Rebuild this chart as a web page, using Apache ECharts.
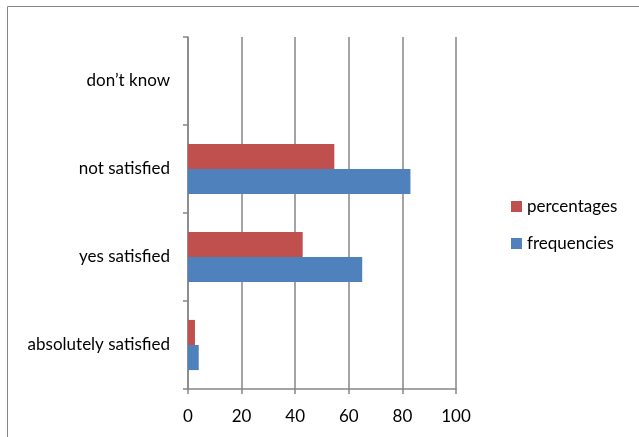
<!DOCTYPE html>
<html>
<head>
<meta charset="utf-8">
<script src="https://cdn.jsdelivr.net/npm/echarts@6/dist/echarts.min.js"></script>
<style>
html,body{margin:0;padding:0;background:#fff;}
#chart{width:639px;height:437px;}
</style>
</head>
<body>
<div id="chart"></div>
<script>
const categories = ["absolutely satisfied", "yes satisfied", "not satisfied", "don\u2019t know"];
const frequencies = [4, 65, 83, 0];
const percentages = [2.6, 42.8, 54.6, 0];
const xTicks = [0, 20, 40, 60, 80, 100];

const chart = echarts.init(document.getElementById('chart'), null, {renderer: 'canvas'});
const axisGray = '#868686';
const fontFam = 'Lato, "Open Sans", sans-serif';
chart.setOption({
  animation: false,
  backgroundColor: '#ffffff',
  graphic: [{
    type: 'rect',
    shape: {x: 7.5, y: 6.5, width: 700, height: 500},
    style: {fill: 'none', stroke: axisGray, lineWidth: 1},
    silent: true
  }],
  grid: {left: 188, top: 37, right: 183, bottom: 48, containLabel: false},
  legend: {
    data: ['percentages', 'frequencies'],
    orient: 'vertical',
    left: 506,
    top: 193,
    itemWidth: 11,
    itemHeight: 11,
    itemGap: 20,
    icon: 'rect',
    textStyle: {fontFamily: fontFam, fontSize: 17, color: '#000'}
  },
  xAxis: {
    type: 'value',
    min: 0, max: 100, interval: 20,
    axisLine: {show: true, lineStyle: {color: axisGray, width: 1.5}},
    axisTick: {show: true, length: 5, lineStyle: {color: axisGray, width: 1.5}},
    splitLine: {show: true, lineStyle: {color: axisGray, width: 1.5}},
    axisLabel: {
      fontFamily: fontFam, fontSize: 17, color: '#000', margin: 19,
      formatter: v => xTicks.includes(v) ? String(v) : ''
    }
  },
  yAxis: {
    type: 'category',
    data: categories,
    axisLine: {show: true, lineStyle: {color: axisGray, width: 1.5}},
    axisTick: {show: true, length: 5, lineStyle: {color: axisGray, width: 1.5}},
    axisLabel: {fontFamily: fontFam, fontSize: 17, color: '#000', margin: 18}
  },
  series: [
    {
      name: 'percentages', type: 'bar', data: percentages,
      itemStyle: {color: '#C0504D'},
      barGap: '0%', barCategoryGap: '43%'
    },
    {
      name: 'frequencies', type: 'bar', data: frequencies,
      itemStyle: {color: '#4F81BD'},
      barGap: '0%', barCategoryGap: '43%'
    }
  ]
});
</script>
</body>
</html>
